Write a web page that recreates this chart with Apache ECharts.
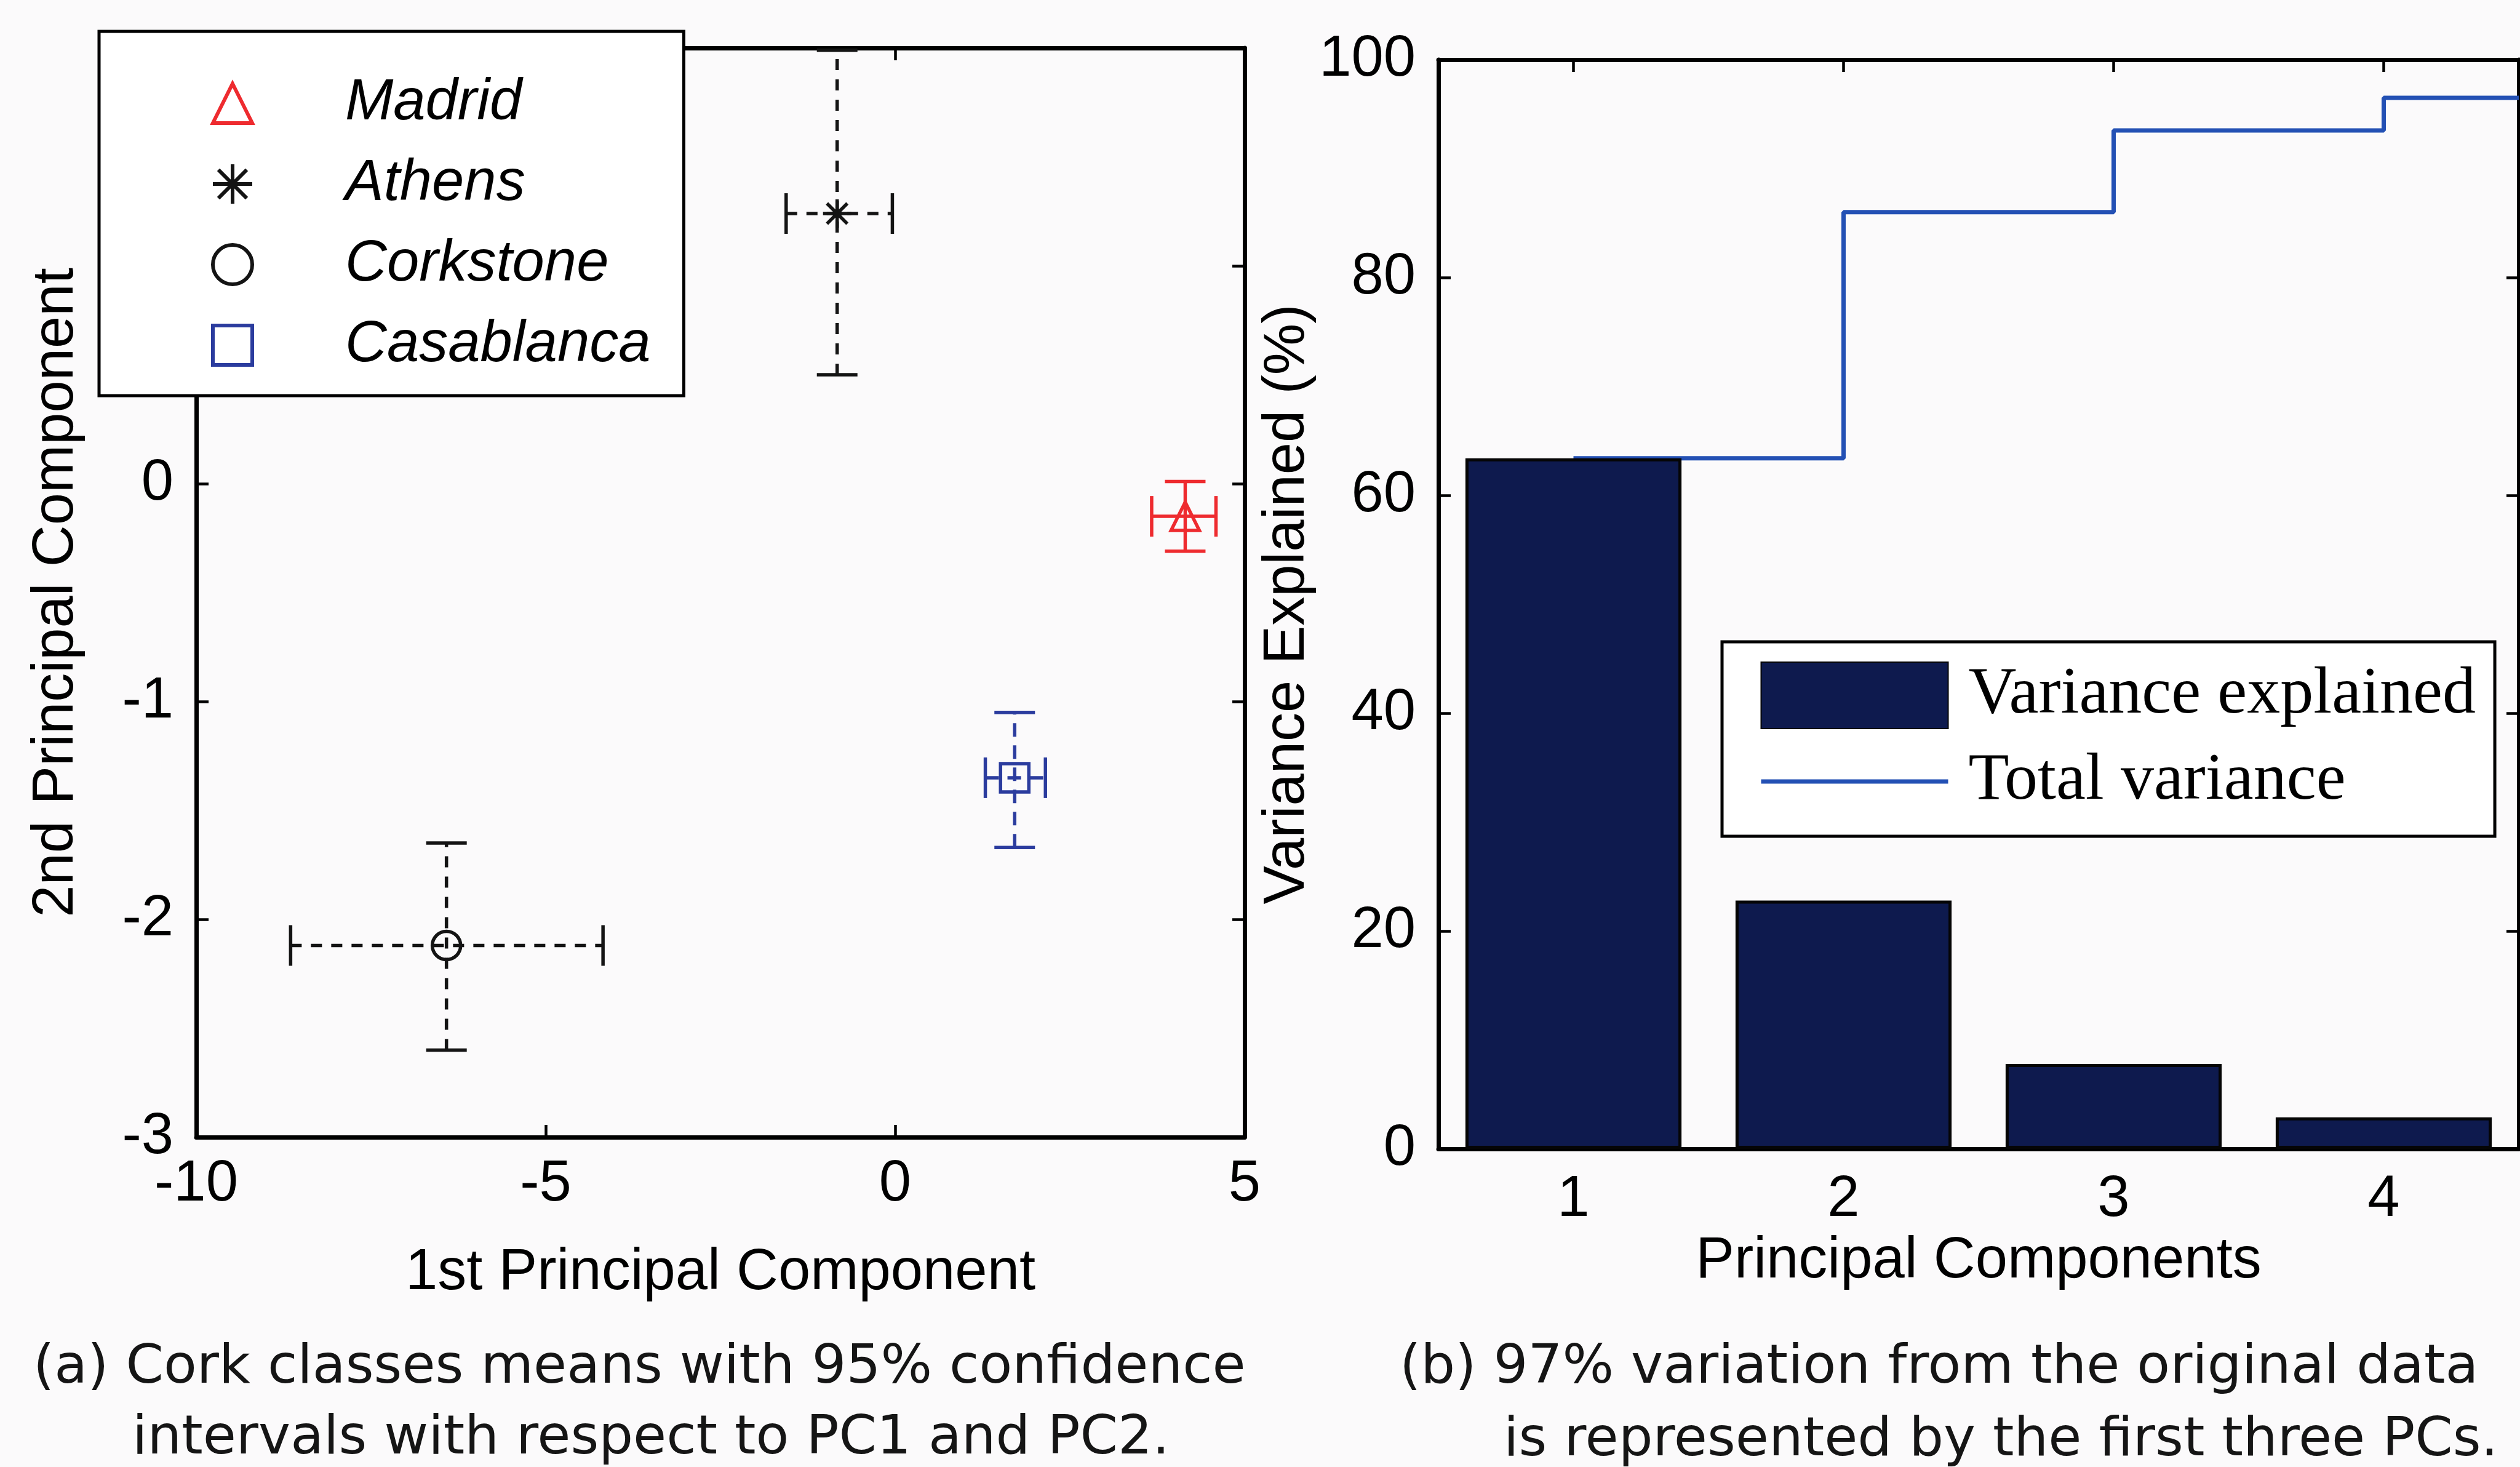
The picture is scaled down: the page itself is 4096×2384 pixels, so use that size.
<!DOCTYPE html>
<html>
<head>
<meta charset="utf-8">
<title>Cork classes PCA</title>
<script src="https://cdn.jsdelivr.net/npm/echarts@6/dist/echarts.min.js"></script>
<style>
  html, body { margin: 0; padding: 0; background: #fbfafb; }
  #chart { width: 4096px; height: 2384px; }
</style>
</head>
<body>
<div id="chart"></div>
<script>
// ---- (a) class means on PC1 / PC2 with 95% confidence bounds ----
const cities  = ['Madrid', 'Athens', 'Corkstone', 'Casablanca'];
const pc1Mean = [4.15, -0.83, -6.42, 1.71];
const pc1Low  = [3.67, -1.56, -8.65, 1.29];
const pc1High = [4.59, -0.04, -4.18, 2.15];
const pc2Mean = [-0.15, 1.24, -2.12, -1.35];
const pc2Low  = [-0.31, 0.50, -2.60, -1.67];
const pc2High = [0.01, 1.99, -1.65, -1.05];

// ---- (b) variance explained per principal component ----
const pcTicks = ['1', '2', '3', '4'];
const varianceExplained = [63.4, 22.8, 7.8, 2.9];
const totalVariance = [63.4, 86.0, 93.5, 96.5];

const captionA = ['(a) Cork classes means with 95% confidence',
                  'intervals with respect to PC1 and PC2.'];
const captionB = ['(b) 97% variation from the original data',
                  'is represented by the first three PCs.'];

// ---- styling ----
const SANS = "'Liberation Sans', Arial, sans-serif";
const TICK_FONT = "'Liberation Sans Narrow', 'Liberation Sans', sans-serif";
const SERIF = "'Liberation Serif', 'Times New Roman', serif";
const CAPTION_FONT = "'DejaVu Sans', Verdana, sans-serif";
const AXIS_W = 7;
const STEP_BLUE = '#2350b4';
const ASTERISK = 'path://M0,-1L0,1M-1,0L1,0M-0.72,-0.72L0.72,0.72M-0.72,0.72L0.72,-0.72';

const cityStyle = {
  Madrid:     { color: '#ee2b2f', symbol: 'triangle', dash: null },
  Athens:     { color: '#141414', symbol: ASTERISK,  dash: [18, 15] },
  Corkstone:  { color: '#141414', symbol: 'circle',  dash: [18, 15] },
  Casablanca: { color: '#2b3c9e', symbol: 'rect',    dash: [22, 14] }
};

const CAP = 33;    // half length of the error-bar caps, px
const BAR_W = 5.5; // error-bar stroke width, px

function errorBarRenderer(color, dash) {
  return function (params, api) {
    const x = api.value(0), y = api.value(1);
    const c  = api.coord([x, y]);
    const xl = api.coord([api.value(2), y]);
    const xh = api.coord([api.value(3), y]);
    const yl = api.coord([x, api.value(4)]);
    const yh = api.coord([x, api.value(5)]);
    const dashed = { stroke: color, lineWidth: BAR_W, lineDash: dash || null, fill: null };
    const solid  = { stroke: color, lineWidth: BAR_W, fill: null };
    const seg = (x1, y1, x2, y2, style) => ({ type: 'line', shape: { x1, y1, x2, y2 }, style });
    return {
      type: 'group',
      children: [
        seg(xl[0], c[1], xh[0], c[1], dashed),
        seg(c[0], yl[1], c[0], yh[1], dashed),
        seg(xl[0], c[1] - CAP, xl[0], c[1] + CAP, solid),
        seg(xh[0], c[1] - CAP, xh[0], c[1] + CAP, solid),
        seg(c[0] - CAP, yl[1], c[0] + CAP, yl[1], solid),
        seg(c[0] - CAP, yh[1], c[0] + CAP, yh[1], solid)
      ]
    };
  };
}

const series = [];
cities.forEach((name, i) => {
  const st = cityStyle[name];
  series.push({
    type: 'custom',
    name: name + ' interval',
    xAxisIndex: 0, yAxisIndex: 0,
    silent: true,
    z: 3,
    renderItem: errorBarRenderer(st.color, st.dash),
    encode: { x: [0, 2, 3], y: [1, 4, 5] },
    data: [[pc1Mean[i], pc2Mean[i], pc1Low[i], pc1High[i], pc2Low[i], pc2High[i]]]
  });
});
cities.forEach((name, i) => {
  const st = cityStyle[name];
  series.push({
    type: 'scatter',
    name: name,
    xAxisIndex: 0, yAxisIndex: 0,
    symbol: st.symbol,
    symbolSize: 46,
    z: 5,
    itemStyle: { color: 'transparent', borderColor: st.color, borderWidth: 5.5, opacity: 1 },
    data: [[pc1Mean[i], pc2Mean[i]]]
  });
});

// cumulative variance drawn as a staircase up to the right edge of the axis
const pcPos = pcTicks.map(Number);
const xEnd = pcPos[pcPos.length - 1] + 0.5;
const stairs = pcPos.map((p, i) => [p, totalVariance[i]]);
stairs.push([xEnd, totalVariance[totalVariance.length - 1]]);

series.push({
  type: 'bar',
  name: 'Variance explained',
  xAxisIndex: 2, yAxisIndex: 2,
  barWidth: '80%',
  z: 3,
  itemStyle: { color: '#0e1a4e', borderColor: '#050505', borderWidth: 5 },
  data: varianceExplained
});
series.push({
  type: 'line',
  name: 'Total variance',
  xAxisIndex: 4, yAxisIndex: 2,
  step: 'end',
  symbol: 'none',
  z: 2,
  itemStyle: { color: STEP_BLUE },
  lineStyle: { color: STEP_BLUE, width: 7 },
  data: stairs
});

const tickLabel = { color: '#000', fontFamily: TICK_FONT, fontSize: 94 };
const axisName = { color: '#000', fontFamily: SANS, fontSize: 94 };
const line = { show: true, onZero: false, lineStyle: { color: '#000', width: AXIS_W } };
const tick = { show: true, inside: true, length: 20, lineStyle: { color: '#000', width: 4.5 } };

function mirrorValue(gridIndex, pos, min, max, interval) {
  return {
    gridIndex, type: 'value', position: pos, min, max, interval,
    axisLine: line, axisTick: tick, axisLabel: { show: false }, splitLine: { show: false }
  };
}

const option = {
  backgroundColor: '#fbfafb',
  animation: false,
  grid: [
    { left: 319, top: 78, width: 1704, height: 1770, outerBoundsMode: 'none' },
    { left: 2338, top: 97, width: 1756, height: 1770, outerBoundsMode: 'none' }
  ],
  xAxis: [
    {
      gridIndex: 0, type: 'value', position: 'bottom', min: -10, max: 5, interval: 5,
      axisLine: line, axisTick: tick, splitLine: { show: false },
      axisLabel: Object.assign({ margin: 30, showMinLabel: true, showMaxLabel: true }, tickLabel),
      name: '1st Principal Component', nameLocation: 'middle', nameGap: 174, nameTextStyle: axisName
    },
    mirrorValue(0, 'top', -10, 5, 5),
    {
      gridIndex: 1, type: 'category', position: 'bottom', data: pcTicks,
      axisLine: line, axisTick: Object.assign({ alignWithLabel: true }, tick), splitLine: { show: false },
      axisLabel: Object.assign({ margin: 36 }, tickLabel),
      name: 'Principal Components', nameLocation: 'middle', nameGap: 136, nameTextStyle: axisName
    },
    {
      gridIndex: 1, type: 'category', position: 'top', data: pcTicks,
      axisLine: line, axisTick: Object.assign({ alignWithLabel: true }, tick),
      axisLabel: { show: false }, splitLine: { show: false }
    },
    { gridIndex: 1, type: 'value', min: 0.5, max: xEnd, show: false }
  ],
  yAxis: [
    {
      gridIndex: 0, type: 'value', position: 'left', min: -3, max: 2, interval: 1,
      axisLine: line, axisTick: tick, splitLine: { show: false },
      axisLabel: Object.assign({ margin: 37, showMinLabel: true, showMaxLabel: false }, tickLabel),
      name: '2nd Principal Component', nameLocation: 'middle', nameGap: 180, nameTextStyle: axisName
    },
    mirrorValue(0, 'right', -3, 2, 1),
    {
      gridIndex: 1, type: 'value', position: 'left', min: 0, max: 100, interval: 20,
      axisLine: line, axisTick: tick, splitLine: { show: false },
      axisLabel: Object.assign({ margin: 37, showMinLabel: true, showMaxLabel: true }, tickLabel),
      name: 'Variance Explained (%)', nameLocation: 'middle', nameGap: 161, nameTextStyle: axisName
    },
    mirrorValue(1, 'right', 0, 100, 20)
  ],
  legend: [
    {
      data: cities,
      orient: 'vertical',
      left: 161, top: 51,
      padding: [70, 54, 35, 182],
      itemWidth: 64, itemHeight: 64, itemGap: 37,
      backgroundColor: '#ffffff',
      borderColor: '#000', borderWidth: 5, borderRadius: 0,
      selectedMode: false,
      itemStyle: { opacity: 1, borderWidth: 6 },
      textStyle: {
        color: '#000', fontFamily: SANS, fontStyle: 'italic',
        fontSize: 94, lineHeight: 94, padding: [0, 0, 0, 146]
      }
    },
    {
      data: [
        { name: 'Variance explained', icon: 'rect' },
        // the staircase has no point markers, so its key shows the line only
        { name: 'Total variance', itemStyle: { opacity: 0 }, lineStyle: { width: 7, color: STEP_BLUE } }
      ],
      orient: 'vertical',
      left: 2799, top: 1043,
      padding: [32, 31, 35, 60],
      itemWidth: 304, itemHeight: 108, itemGap: 31,
      backgroundColor: '#ffffff',
      borderColor: '#000', borderWidth: 5, borderRadius: 0,
      selectedMode: false,
      textStyle: {
        color: '#000', fontFamily: SERIF,
        fontSize: 108, lineHeight: 108, padding: [0, 0, 0, 28]
      }
    }
  ],
  graphic: [
    { type: 'text', x: 54,   y: 2224, style: { text: captionA[0], font: '88px ' + CAPTION_FONT, fill: '#151515', verticalAlign: 'middle' } },
    { type: 'text', x: 215,  y: 2339, style: { text: captionA[1], font: '88px ' + CAPTION_FONT, fill: '#151515', verticalAlign: 'middle' } },
    { type: 'text', x: 2275, y: 2224, style: { text: captionB[0], font: '88px ' + CAPTION_FONT, fill: '#151515', verticalAlign: 'middle' } },
    { type: 'text', x: 2444, y: 2342, style: { text: captionB[1], font: '88px ' + CAPTION_FONT, fill: '#151515', verticalAlign: 'middle' } }
  ],
  series: series
};

const chart = echarts.init(document.getElementById('chart'), null, { renderer: 'canvas' });
chart.setOption(option);
</script>
</body>
</html>
